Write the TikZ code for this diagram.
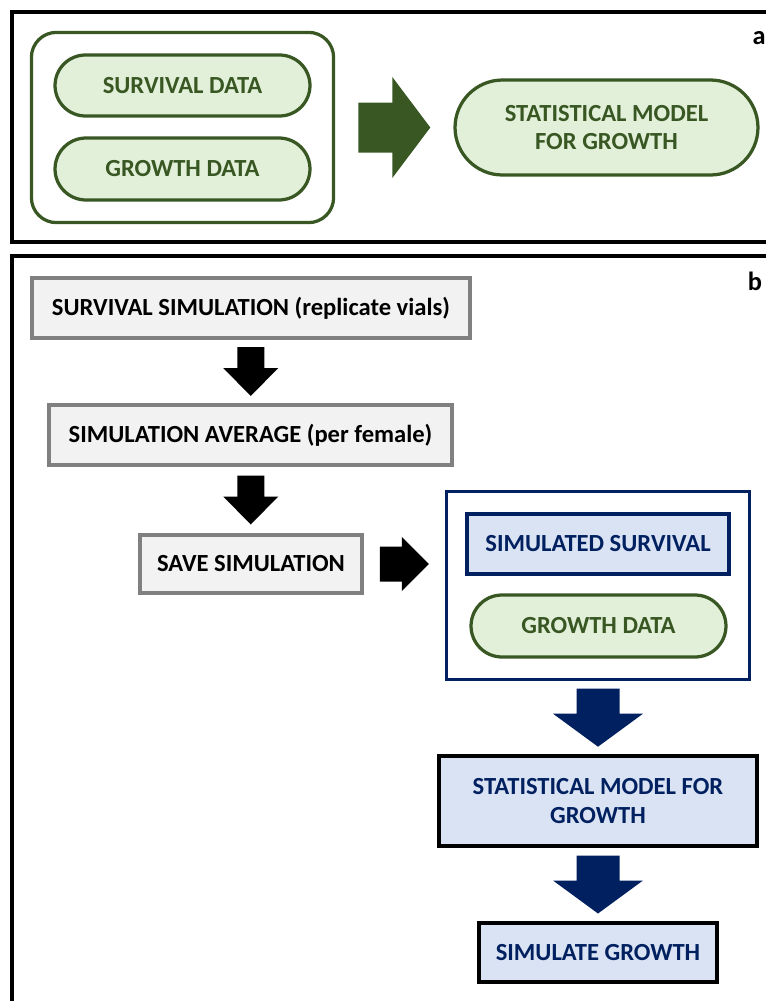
\documentclass[tikz,border=0pt]{standalone}
\usepackage{fontspec}
\setmainfont{Carlito}
\usetikzlibrary{shapes.misc,fit,calc}

\definecolor{flowGreenColor}{RGB}{56,87,35}
\definecolor{flowGreenFillColor}{RGB}{226,240,217}
\definecolor{flowGreyColor}{RGB}{128,128,128}
\definecolor{flowGreyFillColor}{RGB}{242,242,242}
\definecolor{flowNavyColor}{RGB}{0,32,96}
\definecolor{flowNavyFillColor}{RGB}{218,227,243}

\begin{document}
\begin{tikzpicture}[x=0.02cm,y=-0.02cm]
            \tikzset{
                boxtext/.style={align=center, inner sep=0pt, font=\bfseries\fontsize{14}{17}\selectfont},
                pill/.style={boxtext, rounded rectangle, draw=flowGreenColor, fill=flowGreenFillColor, text=flowGreenColor, line width=0.065cm},
                greybox/.style={boxtext, draw=flowGreyColor, fill=flowGreyFillColor, text=black, line width=0.07cm},
                navybox/.style={boxtext, draw=flowNavyColor, fill=flowNavyFillColor, text=flowNavyColor, line width=0.065cm},
                blackbox/.style={boxtext, draw=black, fill=flowNavyFillColor, text=flowNavyColor, line width=0.075cm},
                panel/.style={draw=black, line width=0.08cm},
                panellabel/.style={inner sep=0pt, font=\bfseries\fontsize{15}{17}\selectfont},
                pics/blkarrow/.style args={#1/#2/#3/#4}{code={
                    \path[pic actions] ({-#1},{-(#3+#4)/2}) -- ({#1},{-(#3+#4)/2}) -- ({#1},{(#3-#4)/2})
                        -- ({#2},{(#3-#4)/2}) -- (0,{(#3+#4)/2}) -- ({-#2},{(#3-#4)/2}) -- ({-#1},{(#3-#4)/2}) -- cycle;
                }}
            }

            \useasboundingbox (0,0) rectangle (766,1001);
            \clip (0,0) rectangle (766,1001);

            % panel a
            \draw[panel] (12,12) rectangle (820,242);
            \node[panellabel] (labela) at (759,38) {a};

            \node[pill, minimum width=5.1cm, minimum height=1.22cm] (survdata) at (182.5,85.5) {SURVIVAL DATA};
            \node[pill, minimum width=5.1cm, minimum height=1.24cm] (growthdata) at (182.5,169) {GROWTH DATA};
            \node[draw=flowGreenColor, line width=0.065cm, rounded corners=0.5cm, inner xsep=0.44cm, inner ysep=0.42cm,
                  fit=(survdata)(growthdata)] (datagroup) {};
            \node[pill, minimum width=6.06cm, minimum height=1.9cm, font=\bfseries\fontsize{14}{15.5}\selectfont] (statmodel) at (606.5,127.5) {STATISTICAL MODEL\\FOR GROWTH};

            \pic[fill=flowGreenColor, rotate=90] at ($(datagroup.east)!0.5!(statmodel.west)$) {blkarrow=25/50.5/34/38};

            % panel b
            \draw[panel] (12,256) rectangle (820,1060);
            \node[panellabel] (labelb) at (755,281) {b};

            \node[greybox, minimum width=8.76cm, minimum height=1.2cm] (survsim) at (251,308) {SURVIVAL SIMULATION (replicate vials)};
            \node[greybox, minimum width=8.06cm, minimum height=1.2cm] (simavg) at (250.5,435) {SIMULATION AVERAGE (per female)};
            \node[greybox, minimum width=4.44cm, minimum height=1.16cm] (savesim) at (251,564) {SAVE SIMULATION};

            \node[navybox, minimum width=5.24cm, minimum height=1.2cm] (simsurv) at (598,544) {SIMULATED SURVIVAL};
            \node[pill, minimum width=5.1cm, minimum height=1.24cm] (growthb) at (598.5,626) {GROWTH DATA};
            \node[draw=flowNavyColor, line width=0.065cm, inner xsep=0.38cm, inner ysep=0.42cm,
                  fit=(simsurv)(growthb)] (simgroup) {};

            \node[blackbox, minimum width=6.36cm, minimum height=1.8cm] (statmodelb) at (598,801) {STATISTICAL MODEL FOR\\GROWTH};
            \node[blackbox, minimum width=4.76cm, minimum height=1.18cm] (simgrowth) at (598,952.5) {SIMULATE GROWTH};

            \pic[fill=black] at ($(survsim.south)!0.5!(simavg.north)$) {blkarrow=13.5/27.5/21/28};
            \pic[fill=black] at ($(simavg.south)!0.5!(savesim.north)$) {blkarrow=13.5/27.5/21/28};
            \pic[fill=black, rotate=90] at ($(savesim.east)!0.5!(savesim.east -| simgroup.west)$) {blkarrow=17.5/27/22/27};
            \pic[fill=flowNavyColor] at ($(simgroup.south)!0.5!(statmodelb.north)$) {blkarrow=21.5/45/25/33};
            \pic[fill=flowNavyColor] at ($(statmodelb.south)!0.5!(simgrowth.north)$) {blkarrow=21.5/45/25/33};
        \end{tikzpicture}
\end{document}
